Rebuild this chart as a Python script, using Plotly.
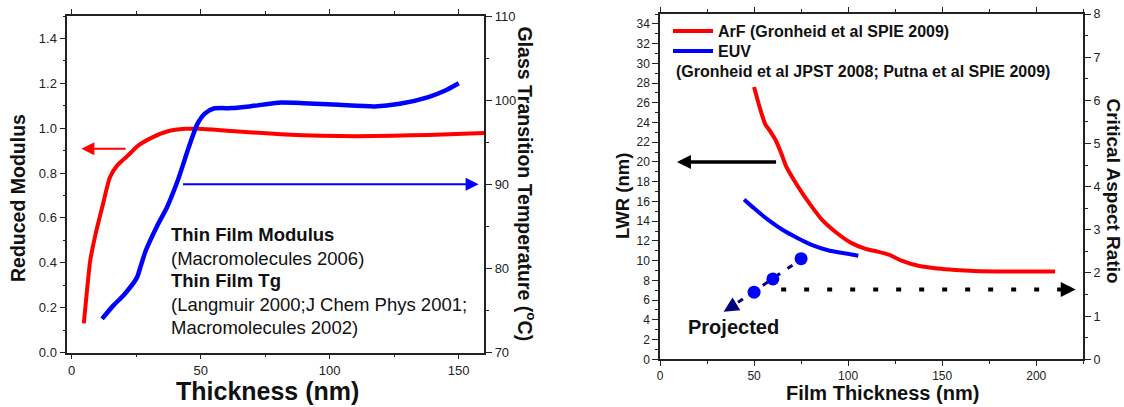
import plotly.graph_objects as go

FONT = "Liberation Sans, Arial, Helvetica, sans-serif"
INK = "#222222"

# ---------------- Left panel data ----------------
mod_thick = [4.7, 5.8, 7.2, 9.3, 12.1, 14.8, 17.6, 21.8, 25.9, 31.5, 37, 44, 49.5, 62, 82.8, 96.7, 110.6, 124.5, 138.3, 160]
modulus = [0.13, 0.26, 0.41, 0.53, 0.66, 0.78, 0.833, 0.878, 0.923, 0.96, 0.985, 0.997, 0.997, 0.987, 0.972, 0.966, 0.964, 0.966, 0.97, 0.978]

tg_thick = [11.8, 16.2, 20.4, 25.3, 26.6, 28.7, 32.9, 37, 41.2, 45.4, 48.8, 51.6, 55.1, 62, 69, 80, 89.8, 103.6, 117.5, 127.2, 138.3, 145.3, 150.1]
tg_temp = [74.0, 75.6, 76.9, 78.9, 80.1, 82.1, 84.9, 87.3, 90.5, 94.4, 97.2, 98.4, 99.0, 99.05, 99.25, 99.7, 99.64, 99.44, 99.25, 99.56, 100.36, 101.2, 102.0]

# arrows on left panel (data coordinates)
mod_arrow_x = [21.5, 3.75]
mod_arrow_y = 0.908
tg_arrow_x = [42.6, 157.8]
tg_arrow_y = 90.0

left_notes = ["<b>Thin Film Modulus</b>", "(Macromolecules 2006)", "<b>Thin Film Tg</b>",
              "(Langmuir 2000;J Chem Phys 2001;", "Macromolecules 2002)"]
left_notes_y = [0.524, 0.42, 0.319, 0.212, 0.111]
left_notes_x = 37.7

# ---------------- Right panel data ----------------
arf_thick = [50, 52.9, 55.8, 58.6, 61.5, 64.4, 67.2, 71.1, 75.8, 80.6, 86.3, 94, 101.6, 109.3, 115, 121.7, 128.4, 137.9, 147.5, 157, 166.6, 185.7, 210]
arf_lwr = [27.6, 25.6, 23.9, 23.1, 22.2, 20.9, 19.5, 18.2, 16.8, 15.5, 14.1, 12.8, 11.8, 11.2, 10.95, 10.6, 10.0, 9.45, 9.2, 9.05, 8.95, 8.9, 8.9]

euv_thick = [44.7, 50, 57.7, 65.3, 73, 80.6, 90.2, 99.7, 105.4]
euv_lwr = [16.2, 15.3, 14.1, 13.1, 12.3, 11.6, 11.0, 10.7, 10.5]

proj_thick = [50, 60, 75]
proj_lwr = [6.8, 8.15, 10.2]

proj_line_thick = [77.0, 35.5]
proj_line_lwr = [10.4, 5.0]
proj_head = (33.8, 4.83)

# critical aspect ratio level (right axis)
car_line_thick = [64.4, 214.0]
car_level = 1.62
car_head_x = 221.0

lwr_arrow_x = [62.5, 9.0]
lwr_arrow_y = 20.0

fig = go.Figure()

# left panel traces
fig.add_trace(go.Scatter(x=mod_thick, y=modulus, mode="lines", xaxis="x", yaxis="y",
                         line=dict(color="#ff0000", width=4, shape="spline", smoothing=0.6),
                         showlegend=False))
fig.add_trace(go.Scatter(x=tg_thick, y=tg_temp, mode="lines", xaxis="x", yaxis="y2",
                         line=dict(color="#0000ff", width=4.5, shape="spline", smoothing=0.6),
                         showlegend=False))

# right panel traces
fig.add_trace(go.Scatter(x=arf_thick, y=arf_lwr, mode="lines", xaxis="x2", yaxis="y3",
                         name="<b>ArF (Gronheid et al SPIE 2009)</b>", legend="legend",
                         line=dict(color="#ff0000", width=4, shape="spline", smoothing=0.6)))
fig.add_trace(go.Scatter(x=euv_thick, y=euv_lwr, mode="lines", xaxis="x2", yaxis="y3",
                         name="<b>EUV</b>", legend="legend2",
                         line=dict(color="#0000ff", width=4, shape="spline", smoothing=0.6)))
fig.add_trace(go.Scatter(x=proj_line_thick, y=proj_line_lwr, mode="lines", xaxis="x2", yaxis="y3",
                         line=dict(color="#000080", width=3, dash="6px,9px"), showlegend=False))
fig.add_trace(go.Scatter(x=proj_thick, y=proj_lwr, mode="markers", xaxis="x2", yaxis="y3",
                         marker=dict(color="#0000ff", size=13), showlegend=False))
fig.add_trace(go.Scatter(x=car_line_thick, y=[car_level] * 2, mode="lines", xaxis="x2", yaxis="y4",
                         line=dict(color="#000000", width=4, dash="5px,18px"), showlegend=False))


def axis(**kw):
    base = dict(showgrid=False, zeroline=False, showline=True, linecolor=INK, linewidth=1.5,
                ticks="outside", tickcolor=INK, tickwidth=1.2, ticklen=6, automargin=False,
                tickfont=dict(family=FONT, size=13, color=INK))
    base.update(kw)
    return base


LX = [67.3 / 1124, 484.3 / 1124]
LY = [(407 - 352.5) / 407, (407 - 16) / 407]
RX = [660 / 1124, 1083.3 / 1124]
RY = [(407 - 359.3) / 407, (407 - 14) / 407]

legend_style = dict(xanchor="left", yanchor="top", bgcolor="rgba(0,0,0,0)", borderwidth=0,
                    itemwidth=40, font=dict(family=FONT, size=16, color="#111"))

fig.update_layout(
    width=1124, height=407,
    margin=dict(l=0, r=0, t=0, b=0),
    paper_bgcolor="white", plot_bgcolor="white",
    font=dict(family=FONT, color=INK),
    xaxis=axis(domain=LX, anchor="y", range=[-1.7, 160], tick0=0, dtick=50, ticklen=5,
               minor=dict(dtick=25, ticklen=3, ticks="outside", tickcolor=INK), mirror="ticks"),
    yaxis=axis(domain=LY, anchor="x", range=[0, 1.5], tick0=0, dtick=0.2, tickformat=".1f",
               minor=dict(dtick=0.1, ticklen=3, ticks="outside", tickcolor=INK)),
    yaxis2=axis(domain=LY, anchor="x", overlaying="y", side="right", range=[70, 110], tick0=70, dtick=10,
                minor=dict(dtick=5, ticklen=3, ticks="outside", tickcolor=INK)),
    xaxis2=axis(domain=RX, anchor="y3", range=[0, 225], tick0=0, dtick=50, ticklen=5,
                tickfont=dict(family=FONT, size=12, color=INK),
                minor=dict(dtick=25, ticklen=3, ticks="outside", tickcolor=INK), mirror="ticks"),
    yaxis3=axis(domain=RY, anchor="x2", range=[0, 35], tick0=0, dtick=2, ticklen=6,
                tickfont=dict(family=FONT, size=12, color=INK),
                minor=dict(dtick=1, ticklen=3, ticks="outside", tickcolor=INK)),
    yaxis4=axis(domain=RY, anchor="x2", overlaying="y3", side="right", range=[0, 8], tick0=0, dtick=1,
                tickfont=dict(family=FONT, size=12.5, color=INK),
                minor=dict(dtick=0.5, ticklen=3, ticks="outside", tickcolor=INK)),
    legend=dict(x=668 / 1124, y=(407 - 14) / 407, **legend_style),
    legend2=dict(x=668 / 1124, y=(407 - 34) / 407, **legend_style),
)

ann = []
title_font = dict(family=FONT, color="#111")
# axis titles
ann.append(dict(text="<b>Reduced Modulus</b>", x=18 / 1124, y=(407 - 198) / 407, textangle=-90,
                font=dict(size=19.5, **title_font)))
ann.append(dict(text="<b>Glass Transition Temperature (<sup>o</sup>C)</b>", x=527 / 1124, y=(407 - 183.5) / 407,
                textangle=90, font=dict(size=19.5, **title_font)))
ann.append(dict(text="<b>Thickness (nm)</b>", x=267 / 1124, y=(407 - 391) / 407,
                font=dict(size=25, **title_font)))
ann.append(dict(text="<b>LWR (nm)</b>", x=622 / 1124, y=(407 - 196) / 407, textangle=-90,
                font=dict(size=18.5, **title_font)))
ann.append(dict(text="<b>Film Thickness (nm)</b>", x=882 / 1124, y=(407 - 393) / 407,
                font=dict(size=20, **title_font)))
ann.append(dict(text="<b>Critical Aspect Ratio</b>", x=1113 / 1124, y=(407 - 190.5) / 407, textangle=90,
                font=dict(size=19, **title_font)))
for a in ann:
    a.update(xref="paper", yref="paper", xanchor="center", yanchor="middle", showarrow=False)

# left notes
for t, yy in zip(left_notes, left_notes_y):
    ann.append(dict(text=t, x=left_notes_x, y=yy, xref="x", yref="y", xanchor="left", yanchor="middle",
                    showarrow=False, font=dict(size=18.5, **title_font)))

# left arrows
ann.append(dict(x=mod_arrow_x[1], y=mod_arrow_y, ax=mod_arrow_x[0], ay=mod_arrow_y, xref="x", yref="y",
                axref="x", ayref="y", text="", showarrow=True, arrowhead=2, arrowsize=1.3, arrowwidth=2,
                arrowcolor="#ff0000"))
ann.append(dict(x=tg_arrow_x[1], y=tg_arrow_y, ax=tg_arrow_x[0], ay=tg_arrow_y, xref="x", yref="y2",
                axref="x", ayref="y2", text="", showarrow=True, arrowhead=2, arrowsize=1.3, arrowwidth=2,
                arrowcolor="#0000ff"))

# right panel text
ann.append(dict(text="<b>(Gronheid et al JPST 2008; Putna et al SPIE 2009)</b>", x=7.6, y=29.2, xref="x2",
                yref="y3", xanchor="left", yanchor="middle", showarrow=False, font=dict(size=16, **title_font)))
ann.append(dict(text="<b>Projected</b>", x=39.1, y=3.3, xref="x2", yref="y3", xanchor="center",
                yanchor="middle", showarrow=False, font=dict(size=20, **title_font)))

# right arrows
ann.append(dict(x=lwr_arrow_x[1], y=lwr_arrow_y, ax=lwr_arrow_x[0], ay=lwr_arrow_y, xref="x2", yref="y3",
                axref="x2", ayref="y3", text="", showarrow=True, arrowhead=2, arrowsize=0.8, arrowwidth=3.5,
                arrowcolor="#000000"))
ann.append(dict(x=car_head_x, y=car_level, ax=car_line_thick[1], ay=car_level, xref="x2", yref="y4",
                axref="x2", ayref="y4", text="", showarrow=True, arrowhead=2, arrowsize=1.0, arrowwidth=3,
                arrowcolor="#000000"))
ann.append(dict(x=proj_head[0], y=proj_head[1], ax=proj_line_thick[1] + 1.5, ay=proj_line_lwr[1] + 0.2,
                xref="x2", yref="y3", axref="x2", ayref="y3", text="", showarrow=True, arrowhead=2,
                arrowsize=1.2, arrowwidth=2.5, arrowcolor="#000080"))

fig.update_layout(annotations=ann)
fig.write_html("out.html", config={"displayModeBar": False},
               post_script="document.body.style.margin='0';")
